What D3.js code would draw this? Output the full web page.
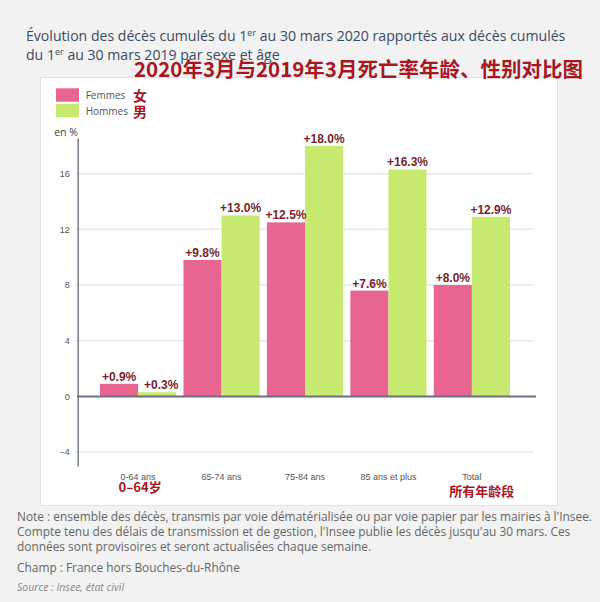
<!DOCTYPE html>
<html>
<head>
<meta charset="utf-8">
<title>Évolution des décès cumulés</title>
<script src="https://cdn.jsdelivr.net/npm/d3@7"></script>
<style>
  body { margin: 0; background: #f2f2f2; }
  svg { display: block; }
</style>
</head>
<body>
<div id="chart"></div>
<script>
// chart values
var categories = ["0-64 ans", "65-74 ans", "75-84 ans", "85 ans et plus", "Total"];
var categoriesZh = ["0–64岁", "", "", "", "所有年龄段"];
var series = ["Femmes", "Hommes"];
var seriesZh = ["女", "男"];
var femmes = [0.9, 9.8, 12.5, 7.6, 8.0];
var hommes = [0.3, 13.0, 18.0, 16.3, 12.9];
var yTicks = [-4, 0, 4, 8, 12, 16];

var colors = { Femmes: "#e86591", Hommes: "#c8e96f" };
var labelColor = "#7a1f2c";
var zhColor = "#a8161f";

var width = 600, height = 602;

var svg = d3.select("#chart").append("svg")
  .attr("width", width).attr("height", height);

// white panel
svg.append("rect")
  .attr("x", 40.5).attr("y", 77.5).attr("width", 517).attr("height", 428)
  .attr("fill", "#fff").attr("stroke", "#e2e2e2");

// title, two lines with superscript "er"
var title = svg.append("text")
  .attr("font-family", "'Open Sans', sans-serif")
  .attr("font-size", 14.1).attr("fill", "#3b4a62");
var t1 = title.append("tspan").attr("x", 26).attr("y", 41);
t1.append("tspan").text("Évolution des décès cumulés du 1");
t1.append("tspan").attr("font-size", 9).attr("dy", -5).text("er");
t1.append("tspan").attr("dy", 5).text(" au 30 mars 2020 rapportés aux décès cumulés");
var t2 = title.append("tspan").attr("x", 26).attr("y", 60);
t2.append("tspan").text("du 1");
t2.append("tspan").attr("font-size", 9).attr("dy", -5).text("er");
t2.append("tspan").attr("dy", 5).text(" au 30 mars 2019 par sexe et âge");

// chinese overlay title
svg.append("text")
  .attr("x", 134).attr("y", 77)
  .attr("font-family", "'Noto Sans CJK SC', sans-serif")
  .attr("font-weight", "bold").attr("font-size", 20.5)
  .attr("fill", zhColor)
  .text("2020年3月与2019年3月死亡率年龄、性别对比图");

// scales
var x0 = d3.scaleBand().domain(categories).range([96.4, 513.6])
  .paddingInner(0.087).paddingOuter(0.0435);
var x1 = d3.scaleBand().domain(series).range([0, x0.bandwidth()]);
var y = d3.scaleLinear().domain([-5, 18.56]).range([466, 138]);

// gridlines
svg.append("g").selectAll("line")
  .data(yTicks.filter(function(d) { return d != 0; }))
  .enter().append("line")
  .attr("x1", 75).attr("x2", 533)
  .attr("y1", function(d) { return y(d); })
  .attr("y2", function(d) { return y(d); })
  .attr("stroke", "#e8e8e8").attr("stroke-width", 1.5);

// y axis
var yAxis = svg.append("g")
  .attr("transform", "translate(77.7,0)")
  .call(d3.axisLeft(y).tickValues(yTicks).tickSize(0).tickSizeOuter(0).tickPadding(8));
yAxis.select(".domain").attr("stroke", "#7a7f8c").attr("stroke-width", 1.5);
yAxis.selectAll("text")
  .attr("font-family", "'Liberation Sans', Arial, sans-serif")
  .attr("font-size", 9).attr("fill", "#555");

svg.append("text")
  .attr("x", 66).attr("y", 135.5).attr("text-anchor", "middle")
  .attr("font-family", "'Open Sans', sans-serif")
  .attr("font-size", 10.5).attr("fill", "#444")
  .text("en %");

// bars
var rows = categories.map(function(c, i) {
  return { cat: c, zh: categoriesZh[i], values: [
    { key: "Femmes", value: femmes[i] },
    { key: "Hommes", value: hommes[i] }
  ] };
});

var groups = svg.append("g").selectAll("g")
  .data(rows).enter().append("g")
  .attr("transform", function(d) { return "translate(" + x0(d.cat) + ",0)"; });

groups.selectAll("rect")
  .data(function(d) { return d.values; })
  .enter().append("rect")
  .attr("x", function(d) { return x1(d.key); })
  .attr("width", x1.bandwidth())
  .attr("y", function(d) { return y(Math.max(0, d.value)); })
  .attr("height", function(d) { return Math.abs(y(d.value) - y(0)); })
  .attr("fill", function(d) { return colors[d.key]; });

groups.selectAll("text.val")
  .data(function(d) { return d.values; })
  .enter().append("text")
  .attr("class", "val")
  .attr("x", function(d) { return x1(d.key) + x1.bandwidth() / 2 + (d.value < 1 && d.key == "Hommes" ? 4 : 0); })
  .attr("y", function(d) { return y(d.value) - 3; })
  .attr("text-anchor", "middle")
  .attr("font-family", "'Liberation Sans', Arial, sans-serif")
  .attr("font-weight", "bold").attr("font-size", 12)
  .attr("fill", labelColor)
  .text(function(d) { return "+" + d.value.toFixed(1) + "%"; });

// zero baseline
svg.append("line")
  .attr("x1", 77).attr("x2", 536)
  .attr("y1", y(0)).attr("y2", y(0))
  .attr("stroke", "#6b7080").attr("stroke-width", 2);

// category labels
groups.append("text")
  .attr("x", x0.bandwidth() / 2).attr("y", 479.5)
  .attr("text-anchor", "middle")
  .attr("font-family", "'Liberation Sans', Arial, sans-serif")
  .attr("font-size", 9).attr("fill", "#555")
  .text(function(d) { return d.cat; });

groups.filter(function(d) { return d.zh != ""; }).append("text")
  .attr("x", function(d, i) { return x0.bandwidth() / 2 + (i == 0 ? 2 : 10); })
  .attr("y", function(d, i) { return i == 0 ? 492 : 496; })
  .attr("text-anchor", "middle")
  .attr("font-family", "'Noto Sans CJK SC', sans-serif")
  .attr("font-weight", "bold").attr("font-size", 13)
  .attr("fill", zhColor)
  .text(function(d) { return d.zh; });

// legend
var legend = svg.append("g").selectAll("g")
  .data(series).enter().append("g")
  .attr("transform", function(d, i) { return "translate(56," + (88.3 + i * 15.7) + ")"; });
legend.append("rect")
  .attr("width", 23).attr("height", 13.4)
  .attr("fill", function(d) { return colors[d]; });
legend.append("text")
  .attr("x", 29.7).attr("y", 11)
  .attr("font-family", "'Open Sans', sans-serif")
  .attr("font-size", 10).attr("fill", "#555")
  .text(function(d) { return d; });
legend.append("text")
  .attr("x", 77).attr("y", 13)
  .attr("font-family", "'Noto Sans CJK SC', sans-serif")
  .attr("font-weight", "bold").attr("font-size", 14)
  .attr("fill", zhColor)
  .text(function(d, i) { return seriesZh[i]; });

// notes
var notes = [
  "Note : ensemble des décès, transmis par voie dématérialisée ou par voie papier par les mairies à l'Insee.",
  "Compte tenu des délais de transmission et de gestion, l'Insee publie les décès jusqu'au 30 mars. Ces",
  "données sont provisoires et seront actualisées chaque semaine.",
  "Champ : France hors Bouches-du-Rhône"
];
var noteY = [521, 536, 551, 572];
svg.append("g").selectAll("text")
  .data(notes).enter().append("text")
  .attr("x", 17).attr("y", function(d, i) { return noteY[i]; })
  .attr("font-family", "'Open Sans', sans-serif")
  .attr("font-size", 11.9).attr("fill", "#666")
  .text(function(d) { return d; });
svg.append("text")
  .attr("x", 17).attr("y", 591)
  .attr("font-family", "'Open Sans', sans-serif")
  .attr("font-style", "italic")
  .attr("font-size", 10.5).attr("fill", "#888")
  .text("Source : Insee, état civil");
</script>
</body>
</html>
